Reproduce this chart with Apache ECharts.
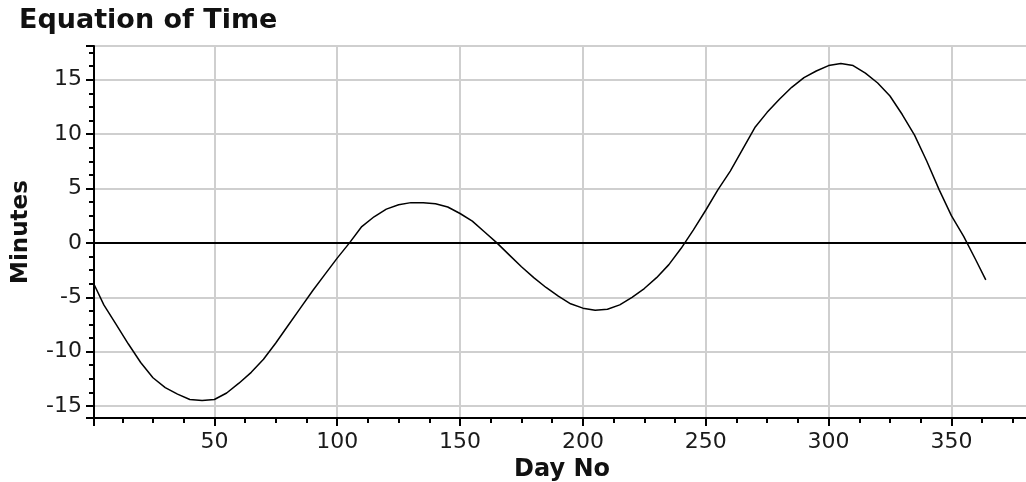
<!DOCTYPE html>
<html>
<head>
<meta charset="utf-8">
<title>Equation of Time</title>
<script src="https://cdn.jsdelivr.net/npm/echarts@6/dist/echarts.min.js"></script>
<style>
  html, body { margin: 0; padding: 0; background: #fff; }
  #eot-chart { width: 1026px; height: 482px; }
</style>
</head>
<body>
<div id="eot-chart"></div>
<script>
// day of year
var days = [1, 5, 10, 15, 20, 25, 30, 35, 40, 45, 50, 55, 60, 65, 70, 75, 80, 85, 90, 95,
  100, 105, 110, 115, 120, 125, 130, 135, 140, 145, 150, 155, 160, 165, 170, 175, 180, 185, 190, 195,
  200, 205, 210, 215, 220, 225, 230, 235, 240, 245, 250, 255, 260, 265, 270, 275, 280, 285, 290, 295,
  300, 305, 310, 315, 320, 325, 330, 335, 340, 345, 350, 355, 360, 364];

// equation of time in minutes
var minutes = [-3.8, -5.7, -7.5, -9.3, -11.0, -12.4, -13.3, -13.9, -14.4, -14.5, -14.4, -13.8, -12.9, -11.9, -10.7, -9.2, -7.6, -6.0, -4.4, -2.9,
  -1.4, 0.0, 1.5, 2.4, 3.1, 3.5, 3.7, 3.7, 3.6, 3.3, 2.7, 2.0, 1.0, 0.0, -1.1, -2.2, -3.2, -4.1, -4.9, -5.6,
  -6.0, -6.2, -6.1, -5.7, -5.0, -4.2, -3.2, -2.0, -0.5, 1.2, 3.0, 4.9, 6.6, 8.6, 10.6, 12.0, 13.2, 14.3, 15.2, 15.8,
  16.3, 16.5, 16.3, 15.6, 14.7, 13.5, 11.8, 9.9, 7.5, 4.9, 2.5, 0.6, -1.6, -3.4];

var points = days.map(function (d, i) { return [d, minutes[i]]; });

var chart = echarts.init(document.getElementById('eot-chart'));

var labelFont = {
  fontFamily: 'DejaVu Sans',
  fontSize: 22,
  color: '#1a1a1a'
};

var option = {
  animation: false,
  title: {
    text: 'Equation of Time',
    left: 14,
    top: 2,
    textStyle: {
      fontFamily: 'DejaVu Sans',
      fontWeight: 'bold',
      fontSize: 27,
      color: '#111'
    }
  },
  grid: {
    left: 94,
    top: 46,
    right: -4,
    bottom: 64,
    outerBoundsMode: 'none',
    show: true,
    borderColor: '#000',
    borderWidth: 2,
    backgroundColor: 'transparent'
  },
  xAxis: {
    type: 'value',
    min: 1,
    max: 382,
    splitNumber: 8,
    name: 'Day No',
    nameLocation: 'middle',
    nameGap: 38,
    nameTextStyle: {
      fontFamily: 'DejaVu Sans',
      fontWeight: 'bold',
      fontSize: 24,
      color: '#111'
    },
    axisLine: { onZero: false, lineStyle: { color: '#000', width: 2 } },
    axisTick: { length: 8, lineStyle: { color: '#000', width: 2 } },
    minorTick: { show: true, splitNumber: 4, length: 5, lineStyle: { color: '#000', width: 2 } },
    axisLabel: Object.assign({ margin: 13, showMinLabel: false, showMaxLabel: false }, labelFont),
    splitLine: { show: true, lineStyle: { color: '#cfcfcf', width: 2 } }
  },
  yAxis: {
    type: 'value',
    min: -16.1,
    max: 18.1,
    splitNumber: 6,
    name: 'Minutes',
    nameLocation: 'middle',
    nameGap: 61,
    nameTextStyle: {
      fontFamily: 'DejaVu Sans',
      fontWeight: 'bold',
      fontSize: 23,
      color: '#111'
    },
    axisLine: { show: true, lineStyle: { color: '#000', width: 2 } },
    axisTick: { show: true, length: 8, lineStyle: { color: '#000', width: 2 } },
    minorTick: { show: true, splitNumber: 4, length: 5, lineStyle: { color: '#000', width: 2 } },
    axisLabel: Object.assign({ margin: 12, showMinLabel: false, showMaxLabel: false }, labelFont),
    splitLine: { show: true, lineStyle: { color: '#cfcfcf', width: 2 } }
  },
  series: [
    {
      type: 'line',
      data: points,
      showSymbol: false,
      smooth: false,
      lineStyle: { color: '#000', width: 1.5 },
      markLine: {
        silent: true,
        symbol: 'none',
        label: { show: false },
        lineStyle: { color: '#000', width: 2, type: 'solid' },
        data: [{ yAxis: 0 }]
      }
    }
  ]
};

chart.setOption(option);
</script>
</body>
</html>
